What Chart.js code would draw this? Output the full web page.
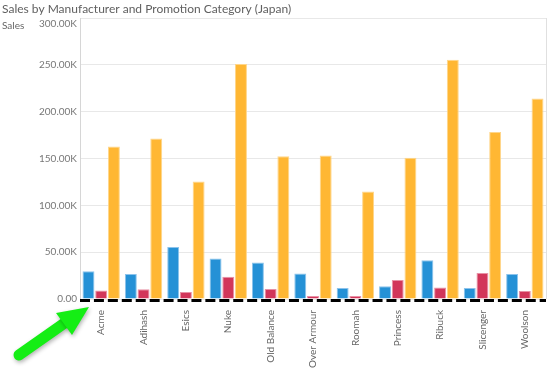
<!DOCTYPE html>
<html>
<head>
<meta charset="utf-8">
<script src="https://cdn.jsdelivr.net/npm/chart.js@4/dist/chart.umd.min.js"></script>
<style>
  html, body { margin: 0; padding: 0; background: #fff; }
  #wrap { width: 547px; height: 371px; }
</style>
</head>
<body>
<div id="wrap"><canvas id="salesChart" width="547" height="371"></canvas></div>
<script>
const manufacturers = ["Acme", "Adihash", "Esics", "Nuke", "Old Balance", "Over Armour",
    "Roomah", "Princess", "Ribuck", "Slicenger", "Woolson"];

const customerSales = [29500, 26600, 55600, 43300, 39000, 27300, 11700, 13500, 41500, 11700, 26600];
const resellerSales = [9200, 10300, 7400, 23800, 10600, 3200, 3200, 20200, 12400, 27700, 8500];
const noDiscountSales = [162800, 171300, 125500, 251000, 152500, 153200, 114900, 150700, 255300, 178400, 214000];

const yTicks = [0, 50000, 100000, 150000, 200000, 250000, 300000];

const fontFamily = "'Segoe UI', Lato, 'Open Sans', sans-serif";

function formatSales(v) {
    if (v === 0) return "0.00";
    return (v / 1000).toFixed(2) + "K";
}

// "Sales" caption, dashed baseline, right edge line and the green arrow
const extras = {
    id: "extras",
    afterDraw(chart) {
        const c = chart.ctx;
        const area = chart.chartArea;
        c.save();

        c.font = "10px " + fontFamily;
        c.fillStyle = "#666";
        c.textBaseline = "middle";
        c.fillText("Sales", 2, 26);

        c.strokeStyle = "#e0e0e0";
        c.lineWidth = 1;
        c.beginPath();
        c.moveTo(area.right + 0.5, area.top);
        c.lineTo(area.right + 0.5, area.bottom);
        c.stroke();

        c.strokeStyle = "#000";
        c.lineWidth = 3;
        c.setLineDash([10, 3.93]);
        c.beginPath();
        c.moveTo(area.left, area.bottom + 1.5);
        c.lineTo(area.right, area.bottom + 1.5);
        c.stroke();
        c.setLineDash([]);

        c.shadowColor = "rgba(0,0,0,0.3)";
        c.shadowBlur = 4;
        c.shadowOffsetX = 1;
        c.shadowOffsetY = 2;
        c.strokeStyle = "#15ee15";
        c.fillStyle = "#15ee15";
        c.lineWidth = 11;
        c.lineCap = "round";
        c.beginPath();
        c.moveTo(19, 355);
        c.lineTo(66, 322);
        c.stroke();
        c.beginPath();
        c.moveTo(89, 307);
        c.lineTo(56, 313);
        c.lineTo(72, 335);
        c.closePath();
        c.fill();
        c.restore();
    }
};

new Chart(document.getElementById("salesChart"), {
    type: "bar",
    data: {
        labels: manufacturers,
        datasets: [{
            label: "Customer",
            data: customerSales,
            backgroundColor: "#2591d6",
            borderColor: "#8cc3ec",
            borderWidth: 1,
            borderSkipped: "bottom"
        }, {
            label: "Reseller",
            data: resellerSales,
            backgroundColor: "#d2365a",
            borderColor: "#e891a5",
            borderWidth: 1,
            borderSkipped: "bottom"
        }, {
            label: "No Discount",
            data: noDiscountSales,
            backgroundColor: "#ffb733",
            borderColor: "#ffd68a",
            borderWidth: 1,
            borderSkipped: "bottom"
        }]
    },
    options: {
        responsive: false,
        animation: false,
        layout: { padding: { left: 2, right: 1, top: 0, bottom: 0 } },
        categoryPercentage: 0.9,
        barPercentage: 0.94,
        scales: {
            x: {
                grid: { display: false },
                border: { display: false },
                ticks: {
                    color: "#666",
                    font: { family: fontFamily, size: 10 },
                    minRotation: 90,
                    maxRotation: 90,
                    padding: 3,
                    autoSkip: false
                },
                afterFit(scale) { scale.height = 72; }
            },
            y: {
                min: 0,
                max: 300000,
                afterBuildTicks(scale) {
                    scale.ticks = yTicks.map(v => ({ value: v }));
                },
                grid: { color: "#e8e8e8", drawTicks: false },
                border: { color: "#d6d6d6" },
                ticks: {
                    color: "#777",
                    font: { family: fontFamily, size: 10 },
                    padding: 3,
                    callback: function(value) {
                        if (value === 300000) return ["", formatSales(value)];
                        return formatSales(value);
                    }
                },
                afterFit(scale) { scale.width = 78; }
            }
        },
        plugins: {
            legend: { display: false },
            tooltip: { enabled: false },
            title: {
                display: true,
                text: "Sales by Manufacturer and Promotion Category (Japan)",
                align: "start",
                color: "#606060",
                font: { family: fontFamily, size: 12, weight: "normal", lineHeight: 1.3 },
                padding: { top: 1, bottom: 1.4 }
            }
        }
    },
    plugins: [extras]
});
</script>
</body>
</html>
